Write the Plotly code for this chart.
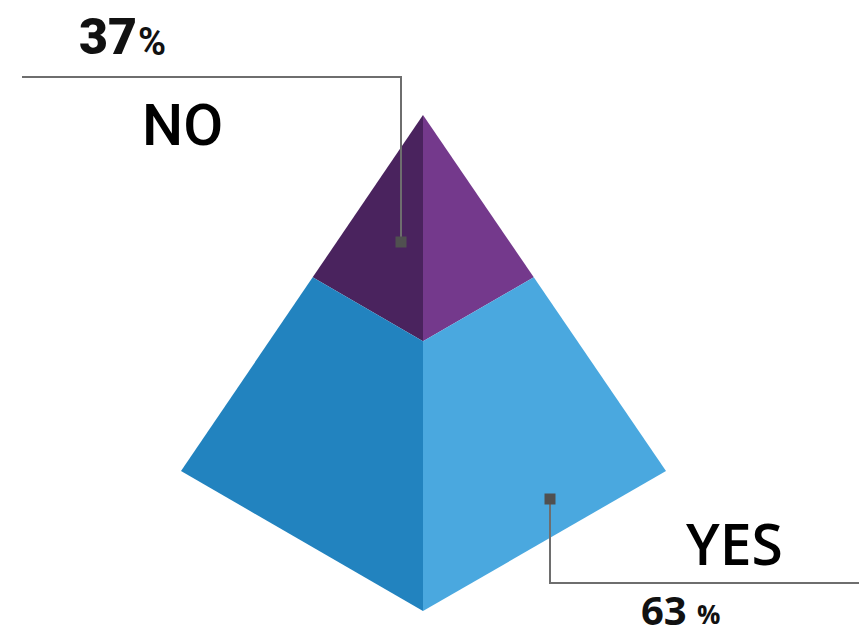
import plotly.graph_objects as go

# ---- data ----
categories = ["NO", "YES"]
values = [37, 63]
face_colors_left = ["#4a235e", "#2283bf"]
face_colors_right = ["#74398c", "#4aa8df"]

# ---- geometry (pixel-like data space) ----
W, H = 859, 632
apex = (423, 115)
left = (181, 471)
right = (666, 471)
front = (423, 611)

share_top = values[0] / sum(values)
f = share_top ** 0.79  # position of the split along the pyramid edges


def lerp(p, q, t):
    return (p[0] + (q[0] - p[0]) * t, p[1] + (q[1] - p[1]) * t)


lp = lerp(apex, left, f)
rp = lerp(apex, right, f)
fp = lerp(apex, front, f)

faces = [
    ([apex, lp, fp], face_colors_left[0]),
    ([apex, fp, rp], face_colors_right[0]),
    ([lp, left, front, fp], face_colors_left[1]),
    ([fp, front, right, rp], face_colors_right[1]),
]

fig = go.Figure()
for pts, col in faces:
    xs = [p[0] for p in pts] + [pts[0][0]]
    ys = [p[1] for p in pts] + [pts[0][1]]
    fig.add_trace(go.Scatter(x=xs, y=ys, fill="toself", fillcolor=col,
                             mode="lines", line=dict(width=0, color=col),
                             hoverinfo="skip", showlegend=False))

# leader lines
leaders = [
    [(401, 242), (401, 77), (22, 77)],
    [(550, 499), (550, 583), (859, 583)],
]
for pts in leaders:
    fig.add_trace(go.Scatter(x=[p[0] for p in pts], y=[p[1] for p in pts],
                             mode="lines", line=dict(color="#6e6e6e", width=2),
                             hoverinfo="skip", showlegend=False))
    fig.add_trace(go.Scatter(x=[pts[0][0]], y=[pts[0][1]], mode="markers",
                             marker=dict(symbol="square", size=11, color="#505050"),
                             hoverinfo="skip", showlegend=False))

# labels
fig.add_annotation(x=139, y=37, text=f"{values[0]}", showarrow=False,
                   xanchor="right", yanchor="middle",
                   font=dict(family="Roboto", size=50, color="#111", weight=900))
fig.add_annotation(x=136, y=42, text="%", showarrow=False,
                   xanchor="left", yanchor="middle",
                   font=dict(family="Roboto", size=38, color="#111", weight=700))
fig.add_annotation(x=182, y=125, text=categories[0], showarrow=False,
                   xanchor="center", yanchor="middle",
                   font=dict(family="Roboto", size=58, color="#000", weight=500))
fig.add_annotation(x=734, y=543, text=categories[1], showarrow=False,
                   xanchor="center", yanchor="middle",
                   font=dict(family="Open Sans", size=57, color="#000", weight=600))
fig.add_annotation(x=689, y=609, text=f"<b>{values[1]}</b>", showarrow=False,
                   xanchor="right", yanchor="middle",
                   font=dict(family="Open Sans", size=40, color="#111"))
fig.add_annotation(x=695, y=614, text="<b>%</b>", showarrow=False,
                   xanchor="left", yanchor="middle",
                   font=dict(family="Open Sans", size=26, color="#111"))

fig.update_xaxes(range=[0, W], visible=False, fixedrange=True)
fig.update_yaxes(range=[H, 0], visible=False, fixedrange=True)
fig.update_layout(width=W, height=H, margin=dict(l=0, r=0, t=0, b=0),
                  paper_bgcolor="white", plot_bgcolor="white")

fig.write_html("out.html")
